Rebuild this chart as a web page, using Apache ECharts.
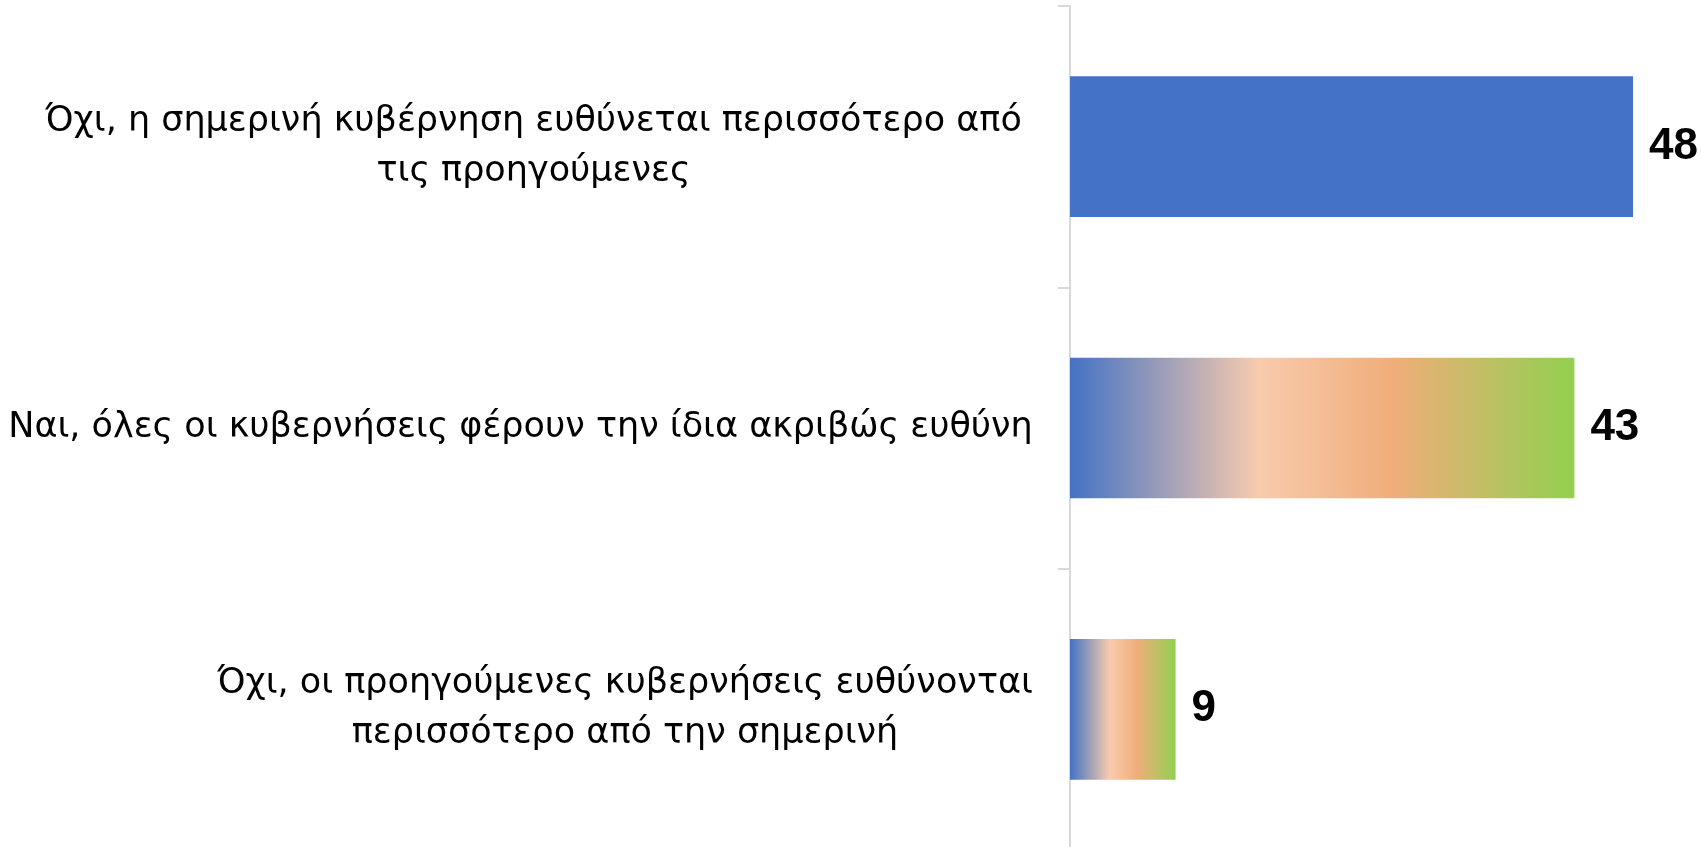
<!DOCTYPE html>
<html>
<head>
<meta charset="utf-8">
<script src="https://cdn.jsdelivr.net/npm/echarts@6/dist/echarts.min.js"></script>
<style>
  html, body { margin: 0; padding: 0; background: #fff; }
  #main { width: 1701px; height: 847px; }
</style>
</head>
<body>
<div id="main"></div>
<script>
var categories = [
    'Όχι, η σημερινή κυβέρνηση ευθύνεται περισσότερο από\nτις προηγούμενες',
    'Ναι, όλες οι κυβερνήσεις φέρουν την ίδια ακριβώς ευθύνη',
    'Όχι, οι προηγούμενες κυβερνήσεις ευθύνονται\nπερισσότερο από την σημερινή'
];
var values = [48, 43, 9];

var labelFont = 'DejaVu Sans';
var labelSize = 35;

// width of the widest line of each label, so lines can be centred inside it
var ctx = document.createElement('canvas').getContext('2d');
ctx.font = labelSize + 'px "' + labelFont + '"';
var rich = {};
categories.forEach(function (c, i) {
    var w = 0;
    c.split('\n').forEach(function (line) {
        w = Math.max(w, ctx.measureText(line).width);
    });
    rich['c' + i] = {
        width: Math.ceil(w),
        align: 'center',
        lineHeight: 50,
        padding: i === 0 ? [0, 11, 0, 0] : 0
    };
});

var gradient = new echarts.graphic.LinearGradient(0, 0, 1, 0, [
    { offset: 0, color: '#4472C4' },
    { offset: 0.375, color: '#F8CBAD' },
    { offset: 0.64, color: '#F0AD7A' },
    { offset: 1, color: '#92D050' }
]);

var chart = echarts.init(document.getElementById('main'));

var option = {
    animation: false,
    grid: {
        left: 1070,
        top: 6,
        width: 586.5,
        height: 844,
        containLabel: false,
        outerBoundsMode: 'none'
    },
    xAxis: {
        type: 'value',
        min: 0,
        max: 50,
        show: false
    },
    yAxis: {
        type: 'category',
        inverse: true,
        data: categories,
        axisLine: { show: true, lineStyle: { color: '#D9D9D9', width: 2 } },
        axisTick: { show: true, length: 12, lineStyle: { color: '#D9D9D9', width: 2 } },
        axisLabel: {
            margin: 37,
            align: 'right',
            color: '#000',
            fontFamily: labelFont,
            fontSize: labelSize,
            formatter: function (value, index) {
                return value.split('\n').map(function (line) {
                    return '{c' + index + '|' + line + '}';
                }).join('\n');
            },
            rich: rich
        },
        splitLine: { show: false }
    },
    series: [{
        type: 'bar',
        barWidth: '50%',
        data: values.map(function (v, i) {
            return {
                value: v,
                itemStyle: { color: i === 0 ? '#4472C4' : gradient }
            };
        }),
        label: {
            show: true,
            position: 'right',
            distance: 16,
            color: '#000',
            fontWeight: 'bold',
            fontFamily: 'Liberation Sans Narrow, Liberation Sans, Arial, sans-serif',
            fontSize: 44
        }
    }]
};

chart.setOption(option);
</script>
</body>
</html>
